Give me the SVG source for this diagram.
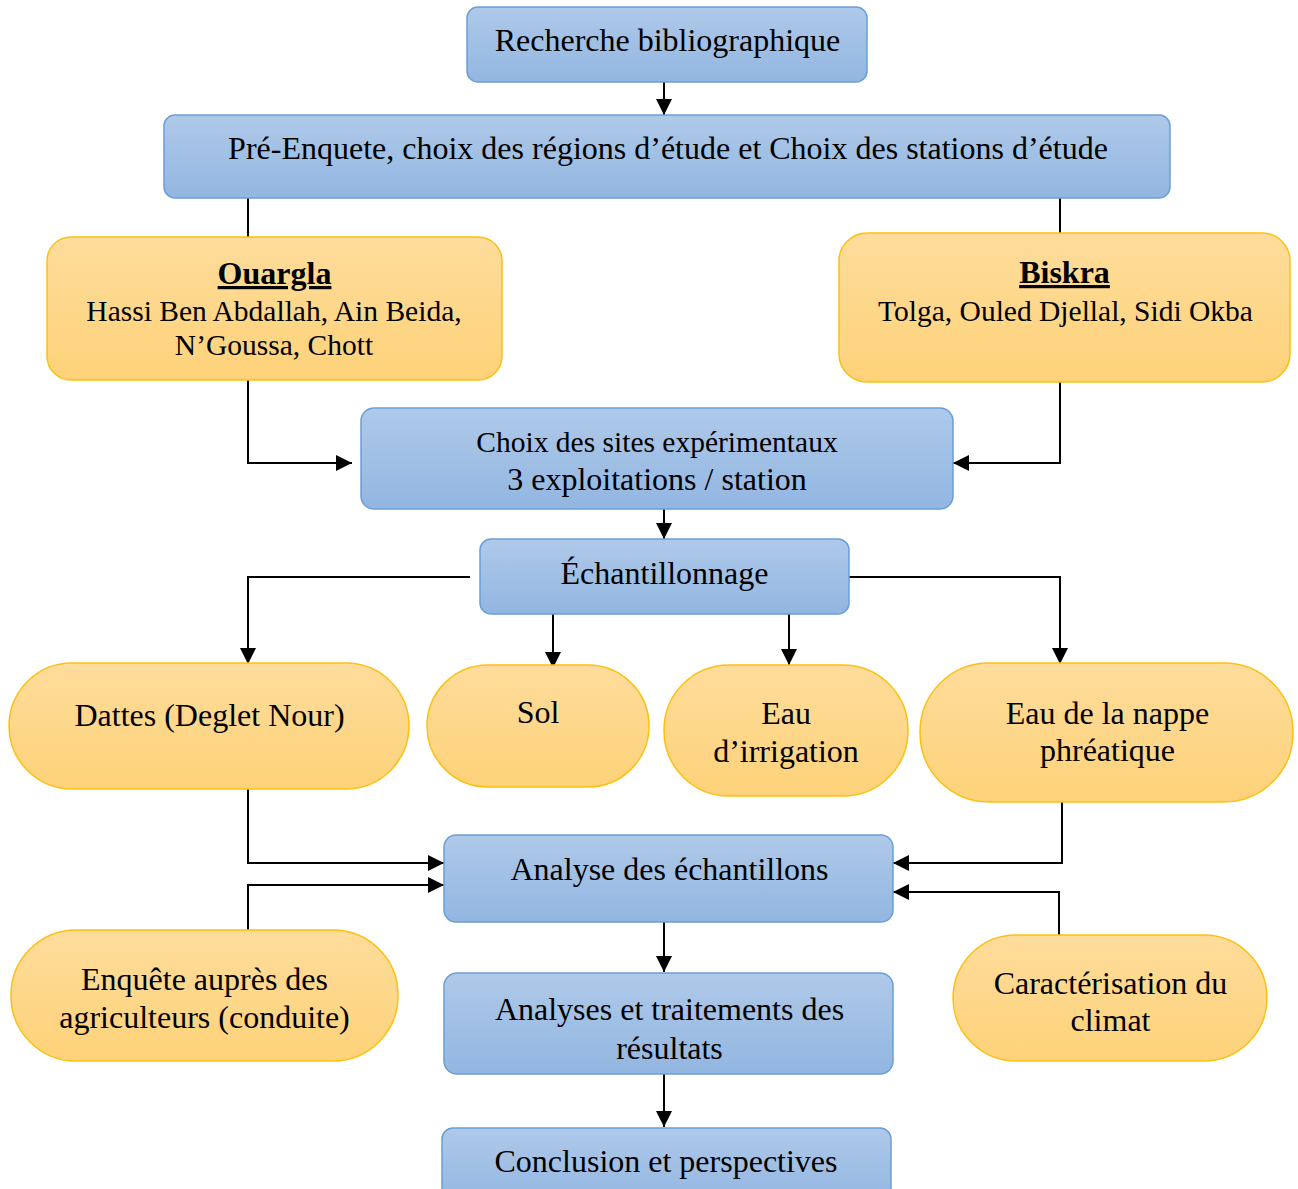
<svg xmlns="http://www.w3.org/2000/svg" width="1298" height="1189" viewBox="0 0 1298 1189">
<defs>
<linearGradient id="gb" x1="0" y1="0" x2="0" y2="1"><stop offset="0" stop-color="#afc9e9"/><stop offset="1" stop-color="#92b6e1"/></linearGradient>
<linearGradient id="go" x1="0" y1="0" x2="0" y2="1"><stop offset="0" stop-color="#fedc9b"/><stop offset="1" stop-color="#fdd279"/></linearGradient>
<marker id="ah" markerUnits="userSpaceOnUse" markerWidth="17" markerHeight="16" refX="16" refY="8" orient="auto"><path d="M0,0 L16,8 L0,16 Z" fill="#000"/></marker>
<style>
.b{fill:url(#gb);stroke:#6a9fd6;stroke-width:1.5}
.o{fill:url(#go);stroke:#fcc012;stroke-width:1.5}
text{font-family:"Liberation Serif","Times New Roman",serif;font-size:32px;fill:#000;text-anchor:middle}
.h{font-weight:bold;text-decoration:underline}
.s{font-size:29.5px}
.c{fill:none;stroke:#000;stroke-width:2}
</style>
</defs>
<g id="connectors">
<path class="c" d="M664,82 V115" marker-end="url(#ah)"/>
<path class="c" d="M248,198 V237"/>
<path class="c" d="M1060,198 V233"/>
<path class="c" d="M248,380 V463 H352" marker-end="url(#ah)"/>
<path class="c" d="M1060,382 V463 H953" marker-end="url(#ah)"/>
<path class="c" d="M664,509 V539" marker-end="url(#ah)"/>
<path class="c" d="M470,577 H248 V664" marker-end="url(#ah)"/>
<path class="c" d="M849,577 H1060 V664" marker-end="url(#ah)"/>
<path class="c" d="M553,614 V668" marker-end="url(#ah)"/>
<path class="c" d="M789,614 V665" marker-end="url(#ah)"/>
<path class="c" d="M248,789 V863 H444" marker-end="url(#ah)"/>
<path class="c" d="M248,934 V885 H444" marker-end="url(#ah)"/>
<path class="c" d="M1062,802 V863 H893" marker-end="url(#ah)"/>
<path class="c" d="M1059,935 V892 H893" marker-end="url(#ah)"/>
<path class="c" d="M664,922 V972" marker-end="url(#ah)"/>
<path class="c" d="M664,1074 V1127" marker-end="url(#ah)"/>
</g>
<g id="n1"><rect class="b" x="467" y="7" width="400" height="75" rx="11"/><text x="667.5" y="51">Recherche bibliographique</text></g>
<g id="n2"><rect class="b" x="164" y="115" width="1006" height="83" rx="11"/><text x="668" y="159">Pré-Enquete, choix des régions d’étude et Choix des stations d’étude</text></g>
<g id="n3"><rect class="o" x="47" y="237" width="455" height="143" rx="24"/><text x="274.5" y="284" class="h">Ouargla</text><text x="274" y="321" class="s">Hassi Ben Abdallah, Ain Beida,</text><text x="274" y="355" class="s">N’Goussa, Chott</text></g>
<g id="n4"><rect class="o" x="839" y="233" width="451" height="149" rx="28"/><text x="1064.5" y="283" class="h">Biskra</text><text x="1065.5" y="321" class="s">Tolga, Ouled Djellal, Sidi Okba</text></g>
<g id="n5"><rect class="b" x="361" y="408" width="592" height="101" rx="13"/><text x="657" y="452" class="s">Choix des sites expérimentaux</text><text x="657" y="490">3 exploitations / station</text></g>
<g id="n6"><rect class="b" x="480" y="539" width="369" height="75" rx="11"/><text x="664.5" y="584">Échantillonnage</text></g>
<g id="n7"><rect class="o" x="9" y="663" width="400" height="126" rx="63"/><text x="209.5" y="726">Dattes (Deglet Nour)</text></g>
<g id="n8"><rect class="o" x="427" y="665" width="222" height="122" rx="61"/><text x="538" y="723">Sol</text></g>
<g id="n9"><rect class="o" x="664" y="665" width="244" height="131" rx="65"/><text x="786" y="724">Eau</text><text x="786" y="762">d’irrigation</text></g>
<g id="n10"><rect class="o" x="920" y="663" width="373" height="139" rx="69"/><text x="1107.5" y="724">Eau de la nappe</text><text x="1107.5" y="761">phréatique</text></g>
<g id="n11"><rect class="b" x="444" y="835" width="449" height="87" rx="12"/><text x="669.5" y="880">Analyse des échantillons</text></g>
<g id="n12"><rect class="o" x="11" y="930" width="387" height="131" rx="65"/><text x="204.5" y="990">Enquête auprès des</text><text x="204.5" y="1028">agriculteurs (conduite)</text></g>
<g id="n13"><rect class="o" x="953" y="935" width="314" height="126" rx="63"/><text x="1110.5" y="994">Caractérisation du</text><text x="1110.5" y="1031">climat</text></g>
<g id="n14"><rect class="b" x="444" y="973" width="449" height="101" rx="13"/><text x="669.5" y="1020">Analyses et traitements des</text><text x="669.5" y="1059">résultats</text></g>
<g id="n15"><rect class="b" x="442" y="1128" width="449" height="75" rx="11"/><text x="666" y="1172">Conclusion et perspectives</text></g>
</svg>
